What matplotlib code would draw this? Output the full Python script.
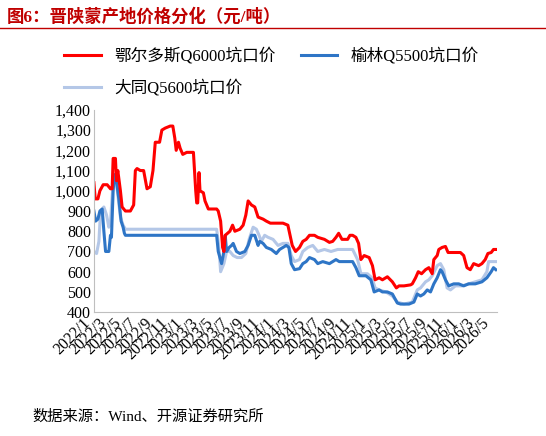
import matplotlib
matplotlib.use("Agg")
import matplotlib.pyplot as plt
import numpy as np

plt.rcParams['font.family'] = ['Liberation Serif', 'Noto Sans CJK SC']

# x = months since 2022/1
red_x = [0, 0.17, 0.52, 0.78, 1.21, 1.73, 2.16, 2.38, 2.51, 2.81, 2.94, 3.12, 3.46, 3.68, 4.11, 4.76, 5.19, 5.41, 5.63, 6.06, 6.49, 6.93, 7.36, 7.71, 8.01, 8.57, 8.87, 9.31, 9.96, 10.30, 10.56, 10.74, 11.04, 11.26, 11.60, 12.12, 12.99, 13.29, 13.42, 13.55, 13.72, 13.85, 14.29, 14.50, 14.94, 16.02, 16.23, 16.54, 16.80, 16.97, 17.14, 17.75, 18.10, 18.40, 19.05, 19.48, 19.83, 20.13, 20.56, 21.0, 21.43, 22.08, 22.51, 23.03, 23.81, 24.68, 25.32, 25.89, 26.32, 26.84, 27.27, 27.71, 28.14, 28.79, 29.22, 30.09, 30.74, 31.17, 31.60, 31.95, 32.38, 33.12, 33.42, 33.77, 34.20, 34.55, 34.85, 35.28, 35.93, 36.36, 36.71, 37.23, 37.66, 38.31, 38.96, 39.48, 39.83, 40.48, 41.34, 41.56, 41.99, 42.34, 42.77, 43.29, 43.72, 44.16, 44.37, 44.81, 45.02, 45.45, 45.89, 46.23, 46.75, 47.84, 48.27, 48.70, 49.13, 49.57, 50.22, 50.65, 51.08, 51.43, 51.86, 52.16, 52.47]
red_y = [1040, 960, 960, 1000, 1030, 1030, 1010, 1010, 1160, 1160, 1050, 1100, 1000, 920, 900, 900, 930, 1100, 1110, 1100, 1100, 1010, 1020, 1100, 1240, 1240, 1300, 1310, 1320, 1320, 1260, 1200, 1240, 1210, 1180, 1190, 1190, 1000, 940, 940, 1090, 1000, 990, 950, 910, 910, 900, 850, 720, 700, 780, 800, 830, 800, 810, 830, 880, 950, 930, 920, 870, 860, 850, 840, 840, 840, 830, 730, 700, 720, 750, 760, 780, 780, 770, 760, 745, 750, 770, 790, 760, 760, 780, 780, 770, 740, 660, 680, 670, 630, 560, 570, 560, 575, 550, 520, 530, 530, 535, 540, 570, 600, 590, 610, 620, 590, 660, 680, 710, 720, 725, 695, 695, 695, 680, 620, 610, 640, 630, 640, 660, 690, 695, 710, 710]

yl_x = [0, 0.22, 0.52, 0.78, 1.08, 1.30, 1.52, 1.95, 2.16, 2.29, 2.51, 2.68, 2.94, 3.25, 3.55, 3.81, 3.98, 4.11, 16.02, 16.23, 16.67, 16.97, 17.14, 17.32, 17.66, 17.97, 18.18, 18.61, 19.05, 19.70, 20.13, 20.56, 21.0, 21.43, 21.65, 22.08, 22.51, 23.16, 23.81, 24.24, 24.68, 25.11, 25.45, 25.76, 26.19, 26.84, 27.27, 27.71, 28.14, 28.79, 29.22, 29.87, 30.74, 31.60, 32.03, 32.90, 33.77, 34.20, 34.63, 35.50, 36.15, 36.58, 37.23, 37.66, 38.31, 38.96, 39.61, 40.04, 41.13, 41.77, 42.21, 42.64, 43.07, 43.51, 43.94, 44.37, 44.81, 45.24, 45.45, 45.89, 46.32, 46.97, 47.62, 48.27, 48.92, 49.78, 50.65, 51.30, 51.86, 52.16, 52.47]
yl_y = [900, 850, 860, 900, 910, 800, 700, 700, 780, 770, 1000, 1080, 1050, 960, 850, 820, 790, 780, 780, 700, 640, 700, 780, 700, 720, 730, 740, 700, 690, 700, 730, 780, 780, 730, 750, 740, 720, 710, 690, 710, 720, 730, 720, 640, 610, 615, 640, 650, 670, 660, 640, 650, 640, 660, 650, 650, 650, 620, 580, 580, 560, 500, 510, 500, 500, 490, 445, 440, 440, 450, 490, 480, 490, 510, 500, 540, 570, 610, 600, 560, 530, 540, 540, 530, 540, 540, 550, 570, 600, 620, 610]

dt_x = [0, 0.35, 0.65, 0.87, 1.30, 1.65, 1.95, 2.16, 2.51, 2.81, 3.12, 3.46, 3.81, 4.11, 16.02, 16.32, 16.54, 16.97, 17.32, 17.75, 18.18, 18.70, 19.26, 19.83, 20.26, 20.78, 21.21, 21.56, 21.86, 22.29, 22.73, 23.38, 24.03, 24.68, 25.32, 25.76, 26.19, 26.84, 27.27, 27.92, 28.57, 29.22, 30.09, 30.95, 31.82, 32.90, 33.77, 34.42, 34.85, 35.71, 36.28, 36.71, 37.23, 38.10, 38.96, 39.61, 40.48, 41.56, 42.21, 42.64, 43.29, 43.72, 44.16, 44.81, 45.24, 45.67, 46.10, 46.54, 47.19, 48.05, 48.92, 49.78, 50.65, 51.30, 51.52, 52.47]
dt_y = [700, 690, 750, 900, 920, 880, 820, 840, 1050, 1080, 980, 870, 830, 810, 810, 720, 600, 640, 700, 700, 680, 670, 670, 690, 760, 820, 810, 780, 750, 780, 770, 760, 730, 740, 740, 680, 650, 660, 700, 720, 730, 700, 710, 700, 710, 710, 710, 660, 590, 590, 570, 520, 510, 500, 480, 450, 440, 450, 510, 520, 550, 560, 580, 630, 640, 610, 520, 510, 530, 530, 540, 550, 560, 600, 650, 650]

tick_pos = np.arange(0, 53, 2)
tick_labels = [f"{2022 + m // 12}/{m % 12 + 1}" for m in tick_pos]

fig = plt.figure(figsize=(5.46, 4.36), dpi=100)
ax = fig.add_axes([0.172, 0.284, 0.738, 0.464])

ax.plot(dt_x, dt_y, color='#B4C7E7', lw=2.2, label='大同Q5600坑口价')
ax.plot(yl_x, yl_y, color='#2E75C6', lw=2.2, label='榆林Q5500坑口价')
ax.plot(red_x, red_y, color='#FF0000', lw=2.2, label='鄂尔多斯Q6000坑口价')

ax.set_xlim(0, 52.6)
ax.set_ylim(400, 1400)
ax.set_yticks(range(400, 1401, 100))
ax.set_yticklabels([f"{v:,}" for v in range(400, 1401, 100)], fontsize=11.5)
ax.set_xticks(tick_pos)
ax.set_xticklabels(tick_labels, rotation=45, ha='right', fontsize=11.5)
for s in ['top', 'right']:
    ax.spines[s].set_visible(False)
for s in ['left', 'bottom']:
    ax.spines[s].set_color('#BFBFBF')
ax.tick_params(length=0, pad=2)

h, l = ax.get_legend_handles_labels()
# column-wise fill: red, light blue in column 1; blue in column 2
fig.legend([h[2], h[0], h[1]], [l[2], l[0], l[1]], loc='upper left',
           bbox_to_anchor=(0.09, 0.925), ncol=2, frameon=False, fontsize=12,
           handlelength=2.2, columnspacing=1.5, labelspacing=0.9)

fig.text(0.012, 0.962, '图6：晋陕蒙产地价格分化（元/吨）', color='#C00000',
         fontsize=12.5, fontweight='bold', va='center')
fig.add_artist(plt.Line2D([0.0, 1.0], [0.935, 0.935], color='#C00000', lw=1))
fig.text(0.06, 0.045, '数据来源：Wind、开源证券研究所', fontsize=11, va='center')

fig.savefig('out.png', dpi=100)
